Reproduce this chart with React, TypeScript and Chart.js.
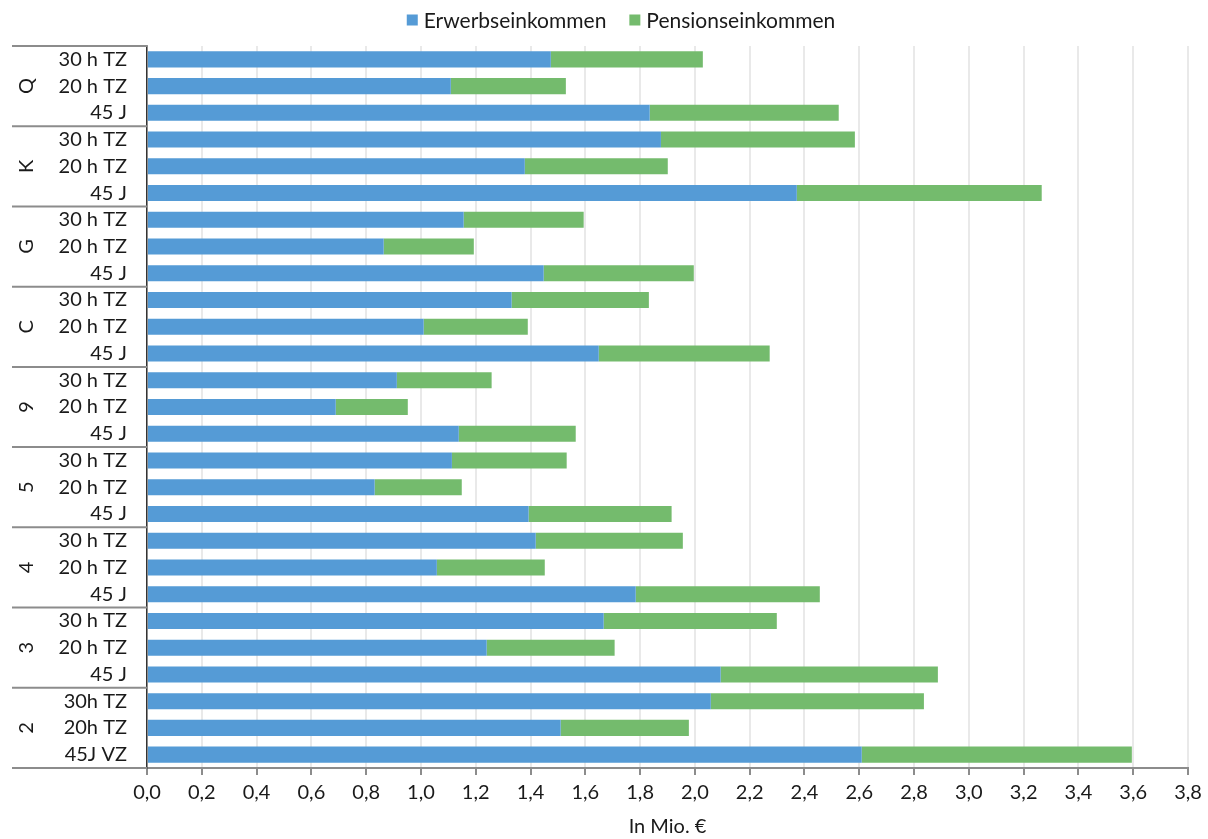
import React, { useEffect, useRef } from "react";
import { Chart, registerables } from "chart.js";

Chart.register(...registerables);

const groups = ["Q", "K", "G", "C", "9", "5", "4", "3", "2"];
const groupSizes = [3, 3, 3, 3, 3, 3, 3, 3, 3];
const rowLabels = [
  "30 h TZ", "20 h TZ", "45 J",
  "30 h TZ", "20 h TZ", "45 J",
  "30 h TZ", "20 h TZ", "45 J",
  "30 h TZ", "20 h TZ", "45 J",
  "30 h TZ", "20 h TZ", "45 J",
  "30 h TZ", "20 h TZ", "45 J",
  "30 h TZ", "20 h TZ", "45 J",
  "30 h TZ", "20 h TZ", "45 J",
  "30h TZ", "20h TZ", "45J VZ",
];
const erwerb = [
  1.474, 1.109, 1.835,
  1.876, 1.379, 2.372,
  1.156, 0.864, 1.448,
  1.331, 1.010, 1.649,
  0.912, 0.689, 1.138,
  1.113, 0.831, 1.393,
  1.419, 1.058, 1.784,
  1.667, 1.240, 2.094,
  2.058, 1.510, 2.609,
];
const pension = [
  0.555, 0.420, 0.690,
  0.708, 0.522, 0.894,
  0.438, 0.329, 0.548,
  0.501, 0.380, 0.624,
  0.346, 0.263, 0.427,
  0.419, 0.318, 0.522,
  0.537, 0.394, 0.672,
  0.632, 0.467, 0.793,
  0.778, 0.468, 0.986,
];
const seriesNames = ["Erwerbseinkommen", "Pensionseinkommen"];
const axisTitle = "In Mio. €";

const FONT = "Lato";
const TEXT = "#1a1a1a";

const topLegend = {
  id: "topLegend",
  afterDraw(chart: any) {
    const ctx = chart.ctx;
    const ds = chart.data.datasets;
    const box = 11;
    const gapBoxText = 6;
    const gapItems = 23;
    ctx.save();
    ctx.font = `21px ${FONT}`;
    const widths = ds.map((d: any) => ctx.measureText(d.label).width);
    const total =
      widths.reduce((a: number, b: number) => a + b, 0) +
      ds.length * (box + gapBoxText) +
      (ds.length - 1) * gapItems;
    let x = 621 - total / 2;
    const cy = 20;
    ds.forEach((d: any, i: number) => {
      ctx.fillStyle = d.backgroundColor;
      ctx.fillRect(x, cy - box / 2, box, box);
      x += box + gapBoxText;
      ctx.fillStyle = TEXT;
      ctx.textAlign = "left";
      ctx.textBaseline = "middle";
      ctx.fillText(d.label, x, cy + 1);
      x += widths[i] + gapItems;
    });
    ctx.restore();
  },
};

const groupAxisPlugin = {
  id: "groupAxis",
  afterDraw(chart: any) {
    const ctx = chart.ctx;
    const y = chart.scales.y;
    const area = chart.chartArea;
    const half = (y.getPixelForValue(1) - y.getPixelForValue(0)) / 2;
    ctx.save();
    ctx.strokeStyle = "#8c8c8c";
    ctx.lineWidth = 2;
    let start = 0;
    const drawLine = (py: number) => {
      ctx.beginPath();
      ctx.moveTo(12, py);
      ctx.lineTo(area.left, py);
      ctx.stroke();
    };
    drawLine(y.getPixelForValue(0) - half);
    groups.forEach((g, i) => {
      const end = start + groupSizes[i] - 1;
      const top = y.getPixelForValue(start) - half;
      const bottom = y.getPixelForValue(end) + half;
      drawLine(bottom);
      ctx.save();
      ctx.translate(27, (top + bottom) / 2);
      ctx.rotate(-Math.PI / 2);
      ctx.fillStyle = TEXT;
      ctx.font = `20px ${FONT}`;
      ctx.textAlign = "center";
      ctx.textBaseline = "middle";
      ctx.fillText(g, 0, 0);
      ctx.restore();
      start = end + 1;
    });
    ctx.restore();
  },
};

export default function App() {
  const ref = useRef<HTMLCanvasElement>(null);
  useEffect(() => {
    document.body.style.margin = "0";
    document.body.style.overflow = "hidden";
    const chart = new Chart(ref.current!, {
      type: "bar",
      data: {
        labels: rowLabels,
        datasets: [
          {
            label: seriesNames[0],
            data: erwerb,
            backgroundColor: "#559BD6",
            borderWidth: 0,
            barPercentage: 0.6,
            categoryPercentage: 1,
          },
          {
            label: seriesNames[1],
            data: pension,
            backgroundColor: "#74BB6D",
            borderWidth: 0,
            barPercentage: 0.6,
            categoryPercentage: 1,
          },
        ],
      },
      options: {
        indexAxis: "y",
        animation: false,
        responsive: false,
        maintainAspectRatio: false,
        layout: { padding: { top: 46, right: 20, left: 0, bottom: 0 } },
        plugins: {
          legend: { display: false },
          tooltip: { enabled: false },
        },
        scales: {
          x: {
            stacked: true,
            min: 0,
            max: 3.8,
            ticks: {
              stepSize: 0.2,
              color: TEXT,
              font: { family: FONT, size: 20 },
              padding: 6,
              maxRotation: 0,
              callback: (v: any) => Number(v).toFixed(1).replace(".", ","),
            },
            grid: {
              color: "#e9e9e9",
              lineWidth: 2,
              tickColor: "#8c8c8c",
              tickLength: 7,
              tickWidth: 2,
            },
            border: { color: "#8c8c8c", width: 2 },
            title: {
              display: true,
              text: axisTitle,
              color: TEXT,
              font: { family: FONT, size: 20 },
              padding: { top: 4, bottom: 0 },
            },
          },
          y: {
            stacked: true,
            ticks: {
              color: TEXT,
              font: { family: FONT, size: 20 },
              padding: 20,
              autoSkip: false,
            },
            grid: { display: false, drawTicks: false },
            border: { color: "#333333", width: 1.5 },
            afterFit: (scale: any) => {
              scale.width = 147;
            },
          },
        },
      },
      plugins: [topLegend, groupAxisPlugin],
    } as any);
    return () => chart.destroy();
  }, []);
  return (
    <div style={{ width: 1208, height: 839 }}>
      <canvas ref={ref} width={1208} height={839} style={{ display: "block" }} />
    </div>
  );
}
